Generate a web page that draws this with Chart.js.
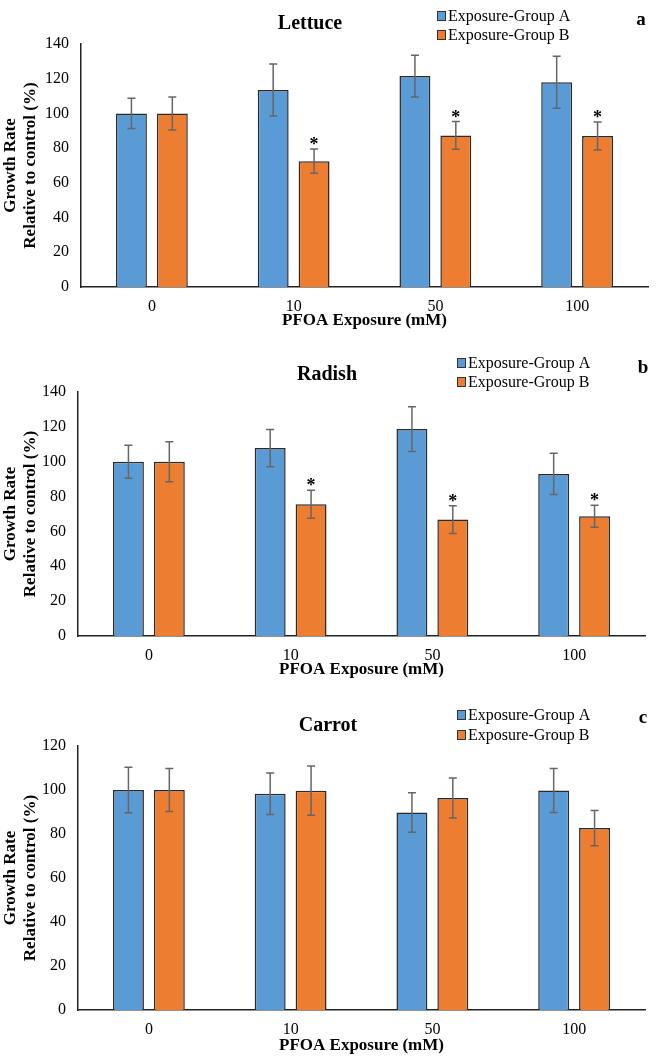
<!DOCTYPE html>
<html>
<head>
<meta charset="utf-8">
<script src="https://cdn.jsdelivr.net/npm/chart.js@4.4.1/dist/chart.umd.min.js"></script>
<style>
  body { margin: 0; background: #fff; width: 661px; height: 1056px; position: relative; overflow: hidden; }
  canvas { position: absolute; left: 0; }
</style>
</head>
<body>
<canvas id="cLettuce" width="661" height="338" style="top:0"></canvas>
<canvas id="cRadish" width="661" height="346" style="top:340px"></canvas>
<canvas id="cCarrot" width="661" height="356" style="top:700px"></canvas>
<script>
// ---- data ----
const doses = ['0', '10', '50', '100'];
const seriesNames = ['Exposure-Group A', 'Exposure-Group B'];

const lettuceA = [100, 113.5, 121.5, 118];
const lettuceAErr = [8.7, 15, 12, 15];
const lettuceB = [100, 72.5, 87.3, 87];
const lettuceBErr = [9.5, 7, 8, 8];
const lettuceSig = [false, true, true, true];

const radishA = [100, 107.8, 118.7, 93];
const radishAErr = [9.5, 10.7, 12.8, 11.8];
const radishB = [100, 75.6, 66.8, 68.7];
const radishBErr = [11.5, 8, 8, 6.3];
const radishSig = [false, true, true, true];

const carrotA = [100, 98.3, 89.8, 99.8];
const carrotAErr = [10.3, 9.4, 9, 10];
const carrotB = [100, 99.7, 96.4, 82.7];
const carrotBErr = [9.8, 11.2, 9.1, 8];
const carrotSig = [false, false, false, false];

const BLUE = '#5B9BD5';
const ORANGE = '#ED7D31';
const SERIF = '"Liberation Serif", "Times New Roman", serif';

/* error bars, significance stars, panel title, legend and letter */
const panelExtras = {
  id: 'panelExtras',
  afterDatasetsDraw(chart) {
    const ctx = chart.ctx;
    const y = chart.scales.y;
    chart.data.datasets.forEach((ds, di) => {
      chart.getDatasetMeta(di).data.forEach((bar, i) => {
        const v = ds.data[i], e = ds.errors[i];
        const top = y.getPixelForValue(v + e);
        const bot = y.getPixelForValue(v - e);
        ctx.save();
        ctx.strokeStyle = '#666';
        ctx.lineWidth = 1.5;
        ctx.beginPath();
        ctx.moveTo(bar.x, top); ctx.lineTo(bar.x, bot);
        ctx.moveTo(bar.x - 4, top); ctx.lineTo(bar.x + 4, top);
        ctx.moveTo(bar.x - 4, bot); ctx.lineTo(bar.x + 4, bot);
        ctx.stroke();
        if (ds.sig && ds.sig[i]) {
          ctx.fillStyle = '#000';
          ctx.font = 'bold 18px ' + SERIF;
          ctx.textAlign = 'center';
          ctx.textBaseline = 'alphabetic';
          ctx.fillText('*', bar.x, top + 1);
        }
        ctx.restore();
      });
    });
  },
  afterDraw(chart, args, opts) {
    const ctx = chart.ctx;
    ctx.save();
    ctx.fillStyle = '#000';
    ctx.textBaseline = 'middle';
    ctx.textAlign = 'center';
    ctx.font = 'bold 20px ' + SERIF;
    ctx.fillText(opts.title, opts.titleX, opts.titleY);
    ctx.font = 'bold 19px ' + SERIF;
    ctx.fillText(opts.letter, opts.letterX, opts.letterY);
    ctx.textAlign = 'left';
    ctx.font = '16px ' + SERIF;
    chart.data.datasets.forEach((ds, i) => {
      const ry = opts.legendY[i];
      ctx.fillStyle = ds.backgroundColor;
      ctx.fillRect(opts.legendX, ry - 5, 9, 10);
      ctx.strokeStyle = '#333';
      ctx.lineWidth = 1;
      ctx.strokeRect(opts.legendX + 0.5, ry - 4.5, 8, 9);
      ctx.fillStyle = '#000';
      ctx.fillText(ds.label, opts.legendX + 11, ry + 1);
    });
    ctx.restore();
  }
};

function makePanel(id, a, aErr, b, bErr, sig, yMax, box, deco) {
  const canvas = document.getElementById(id);
  return new Chart(canvas, {
    type: 'bar',
    data: {
      labels: doses,
      datasets: [
        { label: seriesNames[0], data: a, errors: aErr, backgroundColor: BLUE,
          borderColor: '#2a2a2a', borderWidth: 1.5 },
        { label: seriesNames[1], data: b, errors: bErr, sig: sig, backgroundColor: ORANGE,
          borderColor: '#2a2a2a', borderWidth: 1.5 }
      ]
    },
    options: {
      responsive: false,
      animation: false,
      devicePixelRatio: 1,
      categoryPercentage: 0.577,
      barPercentage: 0.756,
      layout: { padding: { top: box.top, right: box.right, left: 0, bottom: 0 } },
      plugins: {
        legend: { display: false },
        tooltip: { enabled: false },
        panelExtras: deco
      },
      scales: {
        x: {
          grid: { display: false, drawTicks: false },
          border: { display: true, color: '#222', width: 1.5 },
          ticks: { color: '#000', padding: 10, font: { family: SERIF, size: 16 } },
          title: { display: true, text: 'PFOA Exposure (mM)', color: '#000',
                   padding: { top: 0, bottom: box.xTitlePad },
                   font: { family: SERIF, size: 17, weight: 'bold' } },
          afterFit: s => { s.height = box.xHeight; }
        },
        y: {
          min: 0, max: yMax,
          grid: { display: false, drawTicks: false },
          border: { display: true, color: '#222', width: 1.5 },
          ticks: { stepSize: 20, color: '#000', padding: 12, font: { family: SERIF, size: 16 } },
          title: { display: true, text: ['Growth Rate', 'Relative to control (%)'], color: '#000',
                   padding: { top: 0, bottom: 0 },
                   font: { family: SERIF, size: 17, weight: 'bold', lineHeight: 1.2 } },
          afterFit: s => { s.width = box.left; }
        }
      }
    },
    plugins: [panelExtras]
  });
}

makePanel('cLettuce', lettuceA, lettuceAErr, lettuceB, lettuceBErr, lettuceSig, 140,
  { top: 44, right: 13, left: 81, xHeight: 51, xTitlePad: 7 },
  { title: 'Lettuce', titleX: 310, titleY: 24, letter: 'a', letterX: 641, letterY: 20,
    legendX: 437, legendY: [16, 35] });

makePanel('cRadish', radishA, radishAErr, radishB, radishBErr, radishSig, 140,
  { top: 52, right: 16, left: 78, xHeight: 50, xTitlePad: 6 },
  { title: 'Radish', titleX: 327, titleY: 35, letter: 'b', letterX: 643, letterY: 28,
    legendX: 457, legendY: [23, 42] });

makePanel('cCarrot', carrotA, carrotAErr, carrotB, carrotBErr, carrotSig, 120,
  { top: 46, right: 16, left: 78, xHeight: 46, xTitlePad: 0 },
  { title: 'Carrot', titleX: 328, titleY: 26, letter: 'c', letterX: 643, letterY: 18,
    legendX: 457, legendY: [15, 35] });
</script>
</body>
</html>
